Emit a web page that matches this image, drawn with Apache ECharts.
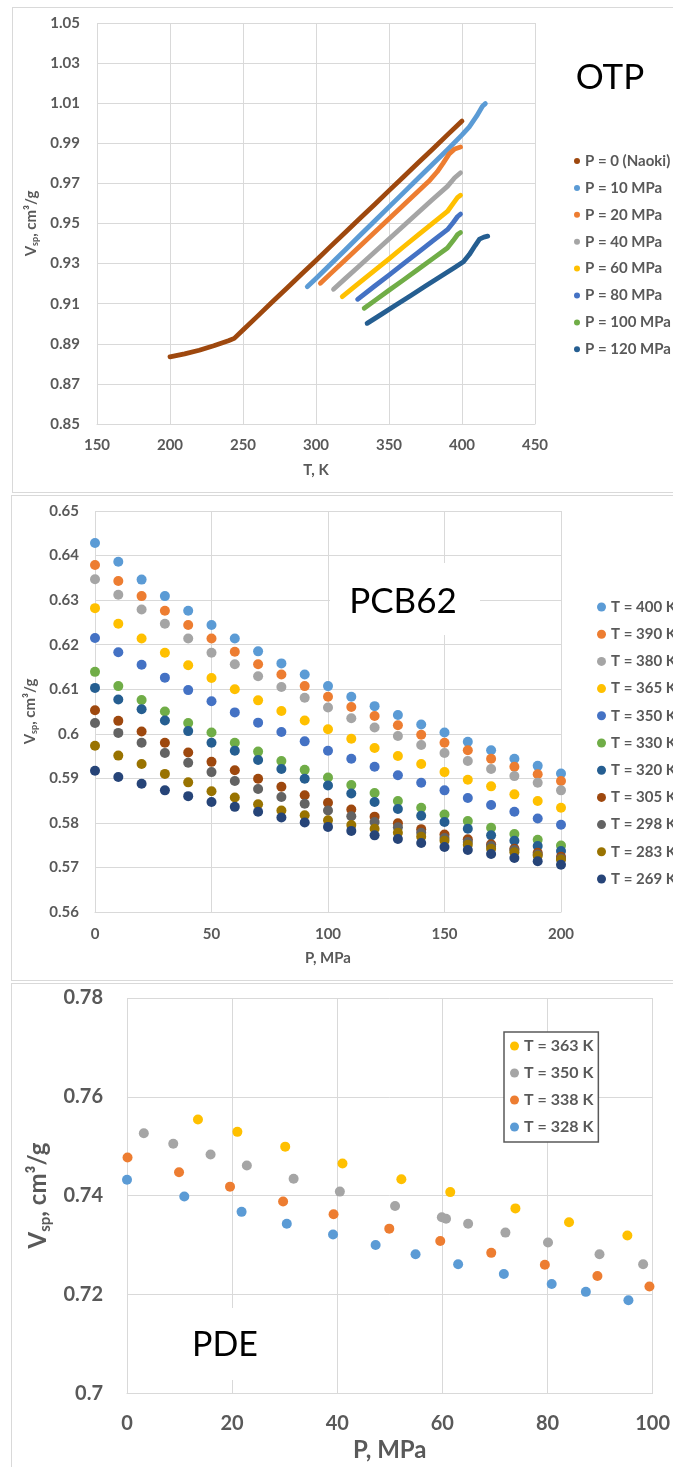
<!DOCTYPE html>
<html><head><meta charset="utf-8">
<script src="https://cdn.jsdelivr.net/npm/echarts/dist/echarts.min.js"></script>
<style>
body{margin:0;background:#fff;width:673px;height:1467px;position:relative;overflow:hidden;}
.panel{position:absolute;border:1px solid #d9d9d9;box-sizing:border-box;}
.chart{position:absolute;left:0;width:673px;}
</style></head><body>
<div class="panel" style="left:12px;top:7px;width:700px;height:486px"></div>
<div class="panel" style="left:11px;top:495px;width:700px;height:486px"></div>
<div class="panel" style="left:11px;top:983px;width:700px;height:520px"></div>
<div id="c1" class="chart" style="top:0;height:492px"></div>
<div id="c2" class="chart" style="top:492px;height:490px"></div>
<div id="c3" class="chart" style="top:982px;height:485px"></div>
<script>
// ---------- OTP (panel 1) ----------
const otpNames = ['P = 0 (Naoki)','P = 10 MPa','P = 20 MPa','P = 40 MPa','P = 60 MPa','P = 80 MPa','P = 100 MPa','P = 120 MPa'];
const otpColors = ['#9E480E','#5B9BD5','#ED7D31','#A5A5A5','#FFC000','#4472C4','#70AD47','#255E91'];
const otpT_0   = [200,210,220,230,240,244,250,260,270,280,290,300,310,320,330,340,350,360,370,380,390,400];
const otpV_0   = [0.8835,0.8850,0.8868,0.8890,0.8915,0.8927,0.8969,0.9038,0.9108,0.9177,0.9247,0.9316,0.9386,0.9455,0.9525,0.9594,0.9664,0.9733,0.9803,0.9872,0.9942,1.0011];
const otpT_10  = [294,300,310,320,330,340,350,360,370,380,390,400,405,410,414,416];
const otpV_10  = [0.9185,0.9226,0.9297,0.9368,0.9440,0.9511,0.9583,0.9654,0.9726,0.9797,0.9868,0.9942,0.9982,1.0035,1.0085,1.0098];
const otpT_20  = [303,310,320,330,340,350,360,370,378,383,387,391,395,399];
const otpV_20  = [0.9202,0.9250,0.9318,0.9387,0.9455,0.9524,0.9592,0.9661,0.9716,0.9758,0.9800,0.9845,0.9872,0.9882];
const otpT_40  = [312,320,330,340,350,360,370,380,390,395,399];
const otpV_40  = [0.9172,0.9225,0.9291,0.9357,0.9423,0.9489,0.9555,0.9621,0.9685,0.9728,0.9753];
const otpT_60  = [318,330,340,350,360,370,380,390,394,397,399];
const otpV_60  = [0.9135,0.9206,0.9265,0.9324,0.9384,0.9443,0.9502,0.9560,0.9600,0.9630,0.9641];
const otpT_80  = [328.5,340,350,360,370,380,390,394,397,399];
const otpV_80  = [0.9122,0.9187,0.9243,0.9300,0.9356,0.9413,0.9469,0.9505,0.9535,0.9547];
const otpT_100 = [333,340,350,360,370,380,390,394,397,399];
const otpV_100 = [0.9077,0.9114,0.9167,0.9219,0.9272,0.9325,0.9378,0.9415,0.9445,0.9455];
const otpT_120 = [335,345,355,365,375,385,395,401,405,409,412,415,417.6];
const otpV_120 = [0.9002,0.9048,0.9095,0.9141,0.9188,0.9234,0.9281,0.9309,0.9345,0.9390,0.9422,0.9432,0.9437];
const otpXTicks = {min:150,max:450,interval:50};
const otpYTicks = {min:0.85,max:1.05,interval:0.02};

// ---------- PCB62 (panel 2) ----------
const pcbNames = ['T = 400 K','T = 390 K','T = 380 K','T = 365 K','T = 350 K','T = 330 K','T = 320 K','T = 305 K','T = 298 K','T = 283 K','T = 269 K'];
const pcbColors = ['#5B9BD5','#ED7D31','#A5A5A5','#FFC000','#4472C4','#70AD47','#255E91','#9E480E','#636363','#997300','#264478'];
const pcbP = [0,10,20,30,40,50,60,70,80,90,100,110,120,130,140,150,160,170,180,190,200];
const pcbV_400 = [0.6428,0.6386,0.6346,0.6309,0.6276,0.6244,0.6214,0.6185,0.6158,0.6133,0.6107,0.6083,0.6062,0.6042,0.6021,0.6003,0.5982,0.5963,0.5944,0.5928,0.5911];
const pcbV_390 = [0.6379,0.6343,0.6309,0.6276,0.6244,0.6214,0.6184,0.6156,0.6133,0.6107,0.6083,0.6060,0.6040,0.6019,0.5998,0.5980,0.5963,0.5944,0.5926,0.5909,0.5894];
const pcbV_380 = [0.6347,0.6312,0.6279,0.6247,0.6214,0.6182,0.6156,0.6129,0.6105,0.6081,0.6059,0.6035,0.6014,0.5995,0.5975,0.5957,0.5939,0.5921,0.5905,0.5890,0.5873];
const pcbV_365 = [0.6282,0.6247,0.6214,0.6182,0.6154,0.6125,0.6100,0.6075,0.6051,0.6030,0.6010,0.5989,0.5968,0.5950,0.5932,0.5914,0.5897,0.5882,0.5864,0.5849,0.5834];
const pcbV_350 = [0.6215,0.6183,0.6155,0.6126,0.6098,0.6073,0.6048,0.6025,0.6004,0.5983,0.5962,0.5944,0.5926,0.5907,0.5890,0.5873,0.5856,0.5840,0.5825,0.5810,0.5796];
const pcbV_330 = [0.6139,0.6107,0.6076,0.6050,0.6024,0.6003,0.5980,0.5960,0.5939,0.5919,0.5902,0.5885,0.5867,0.5849,0.5834,0.5819,0.5804,0.5789,0.5775,0.5762,0.5749];
const pcbV_320 = [0.6103,0.6077,0.6055,0.6030,0.6006,0.5980,0.5962,0.5941,0.5921,0.5899,0.5884,0.5866,0.5847,0.5831,0.5816,0.5802,0.5787,0.5772,0.5760,0.5748,0.5737];
const pcbV_305 = [0.6053,0.6029,0.6005,0.5980,0.5958,0.5937,0.5918,0.5899,0.5881,0.5862,0.5845,0.5830,0.5814,0.5799,0.5786,0.5774,0.5763,0.5752,0.5742,0.5733,0.5724];
const pcbV_298 = [0.6024,0.6002,0.5980,0.5957,0.5935,0.5914,0.5894,0.5876,0.5858,0.5843,0.5828,0.5815,0.5802,0.5790,0.5778,0.5766,0.5757,0.5748,0.5739,0.5729,0.5720];
const pcbV_283 = [0.5973,0.5951,0.5932,0.5910,0.5891,0.5871,0.5857,0.5842,0.5828,0.5817,0.5806,0.5795,0.5787,0.5778,0.5769,0.5760,0.5751,0.5742,0.5734,0.5726,0.5718];
const pcbV_269 = [0.5917,0.5903,0.5888,0.5873,0.5860,0.5847,0.5836,0.5825,0.5812,0.5801,0.5791,0.5782,0.5772,0.5764,0.5755,0.5746,0.5739,0.5730,0.5721,0.5714,0.5706];
const pcbXTicks = {min:0,max:200,interval:50};
const pcbYTicks = {min:0.56,max:0.65,interval:0.01};

// ---------- PDE (panel 3) ----------
const pdeNames = ['T = 363 K','T = 350 K','T = 338 K','T = 328 K'];
const pdeColors = ['#FFC000','#A5A5A5','#ED7D31','#5B9BD5'];
const pdeP_363 = [13.5,21.0,30.1,41.0,52.2,61.5,73.9,84.1,95.2];
const pdeV_363 = [0.7554,0.7529,0.7499,0.7465,0.7433,0.7407,0.7374,0.7346,0.7319];
const pdeP_350 = [3.2,8.8,15.9,22.8,31.7,40.5,51.0,59.9,60.7,64.9,72.0,80.1,89.9,98.2];
const pdeV_350 = [0.7526,0.7505,0.7483,0.7461,0.7434,0.7408,0.7379,0.7356,0.7353,0.7343,0.7325,0.7305,0.7281,0.7261];
const pdeP_338 = [0.1,9.9,19.6,29.7,39.3,49.9,59.6,69.3,79.5,89.5,99.4];
const pdeV_338 = [0.7477,0.7447,0.7418,0.7388,0.7362,0.7333,0.7308,0.7284,0.7260,0.7237,0.7216];
const pdeP_328 = [0,10.9,21.8,30.4,39.2,47.3,54.9,63.0,71.7,80.8,87.3,95.4];
const pdeV_328 = [0.7432,0.7398,0.7367,0.7343,0.7321,0.7300,0.7281,0.7261,0.7241,0.7221,0.7205,0.7188];
const pdeXTicks = {min:0,max:100,interval:20};
const pdeYTicks = {min:0.70,max:0.78,interval:0.02};

// ---------- helpers ----------
const FONT = 'Lato';
const GRID = '#d9d9d9';
const TXT = '#595959';
const zip = (xs, ys) => xs.map((x, i) => [x, ys[i]]);
const gen = v => String(parseFloat(Number(v).toFixed(4)));

function xAxisCfg(t, o) {
  return {
    type: 'value', min: t.min, max: t.max, interval: t.interval,
    axisLine: {show: true, lineStyle: {color: GRID, width: 1}},
    axisTick: {show: false},
    splitLine: {show: true, lineStyle: {color: GRID, width: 1}},
    axisLabel: {color: TXT, fontSize: o.fs, fontFamily: FONT, fontWeight: o.fw, margin: o.margin, formatter: gen},
    name: o.name, nameLocation: 'middle', nameGap: o.nameGap,
    nameTextStyle: {color: TXT, fontSize: o.nfs, fontFamily: FONT, fontWeight: o.nfw}
  };
}
function yAxisCfg(t, o) {
  return {
    type: 'value', min: t.min, max: t.max, interval: t.interval,
    axisLine: {show: false},
    axisTick: {show: false},
    splitLine: {show: true, lineStyle: {color: GRID, width: 1}},
    axisLabel: {color: TXT, fontSize: o.fs, fontFamily: FONT, fontWeight: o.fw, margin: o.margin, formatter: gen},
    name: '{a|V}{s|sp}{a|, cm³/g}', nameLocation: 'middle', nameGap: o.nameGap, nameRotate: 90,
    nameTextStyle: {
      color: TXT, fontSize: o.nfs, fontFamily: FONT, fontWeight: o.nfw,
      rich: {
        a: {color: TXT, fontSize: o.nfs, fontFamily: FONT, fontWeight: o.nfw, lineHeight: o.nfs + 6},
        s: {color: TXT, fontSize: Math.round(o.nfs * 0.62), fontFamily: FONT, fontWeight: o.nfw, lineHeight: o.nfs + 6, padding: [Math.round(o.nfs * 0.55), 0, 0, 0]}
      }
    }
  };
}
function label(x, y, txt, fs) {
  return {type: 'text', x: x, y: y, z: 5,
    style: {text: txt, fontSize: fs, fontFamily: FONT, fill: '#000', align: 'center', verticalAlign: 'middle', textAlign: 'center', textVerticalAlign: 'middle'}};
}

// ---------- chart 1 ----------
const otpT = [otpT_0, otpT_10, otpT_20, otpT_40, otpT_60, otpT_80, otpT_100, otpT_120];
const otpV = [otpV_0, otpV_10, otpV_20, otpV_40, otpV_60, otpV_80, otpV_100, otpV_120];
const c1 = echarts.init(document.getElementById('c1'), null, {renderer: 'canvas'});
c1.setOption({
  animation: false,
  grid: {left: 97, top: 23, width: 438, height: 401},
  xAxis: xAxisCfg(otpXTicks, {fs: 15, fw: 'bold', margin: 14, name: 'T, K', nameGap: 39, nfs: 15, nfw: 'bold'}),
  yAxis: yAxisCfg(otpYTicks, {fs: 15, fw: 'bold', margin: 17, nameGap: 47, nfs: 15, nfw: 'bold'}),
  legend: {orient: 'vertical', left: 569, top: 148, icon: 'circle', itemWidth: 6, itemHeight: 6, itemGap: 10.9,
    textStyle: {color: TXT, fontSize: 15, fontWeight: 'bold', fontFamily: FONT, lineHeight: 16}, data: otpNames},
  graphic: [label(610, 78, 'OTP', 35)],
  series: otpNames.map((n, i) => ({
    name: n, type: 'line', data: zip(otpT[i], otpV[i]), showSymbol: false, symbol: 'circle', symbolSize: 5,
    itemStyle: {color: otpColors[i]},
    lineStyle: {color: otpColors[i], width: 4.8, cap: 'round', join: 'round'}
  }))
});

// ---------- chart 2 ----------
const pcbV = [pcbV_400, pcbV_390, pcbV_380, pcbV_365, pcbV_350, pcbV_330, pcbV_320, pcbV_305, pcbV_298, pcbV_283, pcbV_269];
const c2 = echarts.init(document.getElementById('c2'), null, {renderer: 'canvas'});
c2.setOption({
  animation: false,
  grid: {left: 95, top: 19, width: 466, height: 401},
  xAxis: xAxisCfg(pcbXTicks, {fs: 15, fw: 'bold', margin: 15, name: 'P, MPa', nameGap: 39, nfs: 15, nfw: 'bold'}),
  yAxis: yAxisCfg(pcbYTicks, {fs: 15, fw: 'bold', margin: 16, nameGap: 47, nfs: 15, nfw: 'bold'}),
  legend: {orient: 'vertical', left: 592, top: 102, icon: 'circle', itemWidth: 9, itemHeight: 9, itemGap: 11.2,
    textStyle: {color: TXT, fontSize: 15, fontWeight: 'bold', fontFamily: FONT, lineHeight: 16}, data: pcbNames},
  graphic: [
    {type: 'rect', z: 1, shape: {x: 330, y: 71, width: 150, height: 72}, style: {fill: '#fff'}},
    label(403, 110, 'PCB62', 35)
  ],
  series: pcbNames.map((n, i) => ({
    name: n, type: 'scatter', data: zip(pcbP, pcbV[i]), symbol: 'circle', symbolSize: 10,
    itemStyle: {color: pcbColors[i], opacity: 1}
  }))
});

// ---------- chart 3 ----------
const pdeP = [pdeP_363, pdeP_350, pdeP_338, pdeP_328];
const pdeV = [pdeV_363, pdeV_350, pdeV_338, pdeV_328];
const c3 = echarts.init(document.getElementById('c3'), null, {renderer: 'canvas'});
c3.setOption({
  animation: false,
  grid: {left: 127, top: 16, width: 532, height: 399},
  xAxis: xAxisCfg(pdeXTicks, {fs: 20, fw: 'bold', margin: 20, name: 'P, MPa', nameGap: 41, nfs: 24, nfw: 'bold'}),
  yAxis: yAxisCfg(pdeYTicks, {fs: 20, fw: 'bold', margin: 24, nameGap: 71, nfs: 24, nfw: 'bold'}),
  legend: {orient: 'vertical', left: 504, top: 50, icon: 'circle', itemWidth: 9, itemHeight: 9, itemGap: 11,
    padding: [6, 5, 7, 6], borderColor: '#595959', borderWidth: 1.5, backgroundColor: '#fff',
    textStyle: {color: TXT, fontSize: 16, fontWeight: 'bold', fontFamily: FONT, lineHeight: 16}, data: pdeNames},
  graphic: [
    {type: 'rect', z: 1, shape: {x: 185, y: 326, width: 81, height: 72}, style: {fill: '#fff'}},
    label(225, 363, 'PDE', 34)
  ],
  series: pdeNames.map((n, i) => ({
    name: n, type: 'scatter', data: zip(pdeP[i], pdeV[i]), symbol: 'circle', symbolSize: 10,
    itemStyle: {color: pdeColors[i], opacity: 1}
  }))
});
</script>
</body></html>
